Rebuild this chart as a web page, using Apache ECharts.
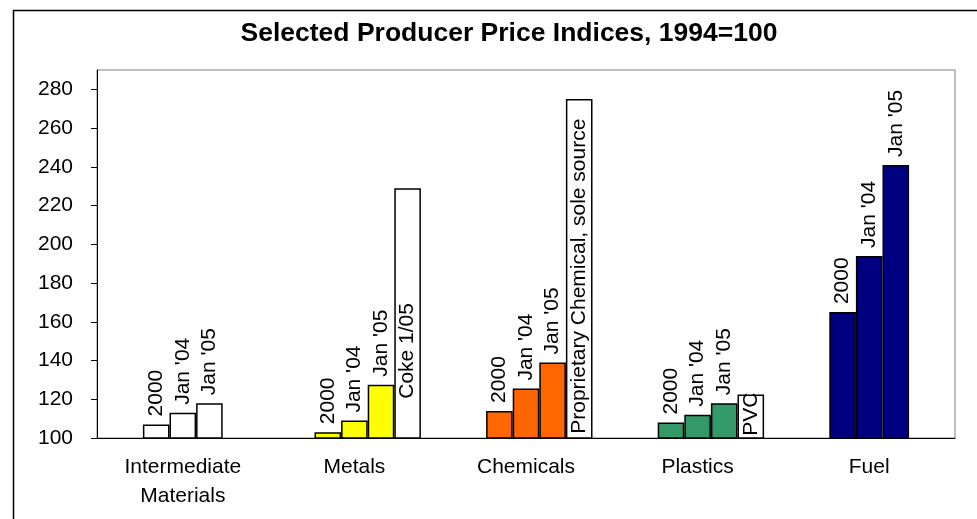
<!DOCTYPE html>
<html>
<head>
<meta charset="utf-8">
<script src="https://cdn.jsdelivr.net/npm/echarts@6/dist/echarts.min.js"></script>
<style>html,body{margin:0;padding:0;background:#fff;}#chart{width:977px;height:519px;}</style>
</head>
<body>
<div id="chart"></div>
<script>
var categories = ['Intermediate\nMaterials', 'Metals', 'Chemicals', 'Plastics', 'Fuel'];
var values2000 = [107, 103, 114, 108, 165];
var valuesJan04 = [113, 109, 125.5, 112, 194];
var valuesJan05 = [118, 127.5, 139, 118, 241];
var extraValues = [null, 229, 275, 122.5, null];
var extraLabels = ['', 'Coke 1/05', 'Proprietary Chemical, sole source', 'PVC', ''];
var seriesNames = ['2000', "Jan '04", "Jan '05"];
var yTicks = { min: 100, max: 290, interval: 20 };

// styles (kept apart from data)
var categoryColors = ['#FFFFFF', '#FFFF00', '#FF6600', '#339966', '#000080'];
var extraLabelDistance = [4, 40, 5, 3, 4];
var FONT = '"Liberation Sans", Arial, sans-serif';
var FS = 21;
var barW = 26.6;

function mainSeries(name, data) {
  return {
    name: name, type: 'bar', data: data, barWidth: barW, barGap: '0%',
    itemStyle: { color: function (p) { return categoryColors[p.dataIndex]; }, borderColor: '#000', borderWidth: 1.5 },
    label: { show: true, position: 'top', rotate: 90, align: 'left', verticalAlign: 'middle', distance: 8,
      formatter: name, color: '#000', fontFamily: FONT, fontSize: FS },
    emphasis: { disabled: true }
  };
}
var chart = echarts.init(document.getElementById('chart'), null, { renderer: 'canvas' });
chart.setOption({
  animation: false,
  backgroundColor: '#fff',
  title: { text: 'Selected Producer Price Indices, 1994=100', left: 504, top: 15, textAlign: 'center',
    textStyle: { fontFamily: FONT, fontWeight: 'bold', fontSize: 26.5, color: '#000' } },
  grid: { left: 97, right: 22, top: 70, bottom: 81, show: true, borderColor: '#808080', borderWidth: 1, backgroundColor: 'transparent' },
  xAxis: {
    type: 'category', data: categories,
    axisLine: { lineStyle: { color: '#000', width: 1 } },
    axisTick: { show: false },
    axisLabel: { interval: 0, margin: 15, color: '#000', fontFamily: FONT, fontSize: FS, lineHeight: 29 }
  },
  yAxis: {
    type: 'value', min: yTicks.min, max: yTicks.max, interval: yTicks.interval,
    splitLine: { show: false },
    axisLine: { show: true, lineStyle: { color: '#000', width: 1 } },
    axisTick: { show: true, length: 6, lineStyle: { color: '#000' } },
    axisLabel: { showMaxLabel: false, margin: 24, color: '#000', fontFamily: FONT, fontSize: FS }
  },
  series: [
    { name: 'spacer', type: 'bar', data: [null, null, null, null, null], barWidth: barW, barGap: '0%', silent: true },
    mainSeries(seriesNames[0], values2000),
    mainSeries(seriesNames[1], valuesJan04),
    mainSeries(seriesNames[2], valuesJan05),
    {
      name: 'extra', type: 'bar', barWidth: barW, barGap: '0%',
      data: extraValues.map(function (v, i) { return { value: v, label: { distance: extraLabelDistance[i] } }; }),
      itemStyle: { color: '#FFFFFF', borderColor: '#000', borderWidth: 1.5 },
      label: { show: true, position: 'insideBottom', rotate: 90, align: 'left', verticalAlign: 'middle',
        formatter: function (p) { return extraLabels[p.dataIndex]; }, color: '#000', fontFamily: FONT, fontSize: FS },
      emphasis: { disabled: true }
    }
  ],
  graphic: [
    { type: 'rect', left: 11, top: 8, shape: { x: 0, y: 0, width: 1000, height: 600 }, silent: true,
      style: { fill: 'none', stroke: '#000', lineWidth: 1.5 } }
  ]
});
</script>
</body>
</html>
